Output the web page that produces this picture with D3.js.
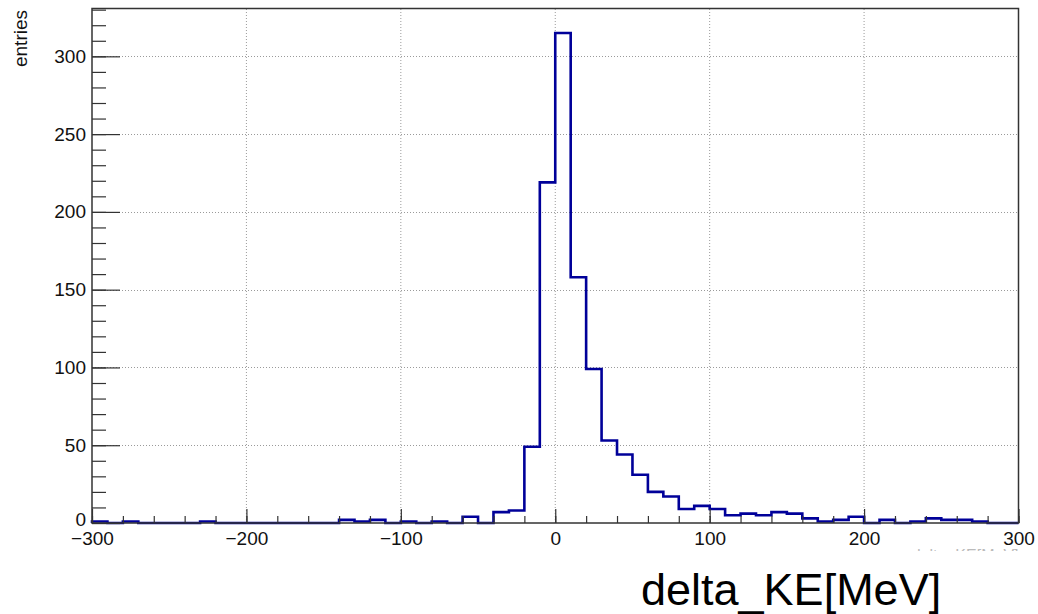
<!DOCTYPE html>
<html>
<head>
<meta charset="utf-8">
<script src="https://cdn.jsdelivr.net/npm/d3@7"></script>
<style>
  html, body { margin: 0; padding: 0; background: #fff; }
  svg { display: block; }
</style>
</head>
<body>
<svg id="chart" width="1038" height="614"></svg>
<script>
// ---- data ----
const binLow = [
  -300,-290,-280,-270,-260,-250,-240,-230,-220,-210,
  -200,-190,-180,-170,-160,-150,-140,-130,-120,-110,
  -100,-90,-80,-70,-60,-50,-40,-30,-20,-10,
  0,10,20,30,40,50,60,70,80,90,
  100,110,120,130,140,150,160,170,180,190,
  200,210,220,230,240,250,260,270,280,290
];
const binWidth = 10;
const entries = [
  1,0,1,0,0,0,0,1,0,0,
  0,0,0,0,0,0,2,1,2,0,
  1,0,1,0,4,0,7,8,49,219,
  315,158,99,53,44,31,20,17,9,11,
  9,5,6,5,7,6,3,1,2,4,
  0,2,0,1,3,2,2,1,0,0
];
const xTicks = [-300,-200,-100,0,100,200,300];
const xTickLabels = ["\u2212300","\u2212200","\u2212100","0","100","200","300"];
const yTicks = [0,50,100,150,200,250,300];
const yTickLabels = ["0","50","100","150","200","250","300"];
const xDomain = [-300, 300];
const yDomain = [0, 330.75];
const yTitle = "entries";
const xAxisTitle = "delta_KE[MeV]";
const bigLabel = "delta_KE[MeV]";

// ---- layout ----
const L = 92, R = 1018.5, T = 8.5, B = 523;
const svg = d3.select("#chart");
const x = d3.scaleLinear().domain(xDomain).range([L, R]);
const y = d3.scaleLinear().domain(yDomain).range([B, T]);
const font = "'Liberation Sans', Arial, Helvetica, sans-serif";

// grid
const grid = svg.append("g");
grid.selectAll("line.gx").data(xTicks.slice(1, -1)).join("line")
  .attr("x1", d => x(d)).attr("x2", d => x(d))
  .attr("y1", B).attr("y2", T)
  .attr("stroke", "#9a9a9a").attr("stroke-width", 1)
  .attr("stroke-dasharray", "1,2");
grid.selectAll("line.gy").data(yTicks.slice(1)).join("line")
  .attr("x1", L).attr("x2", R)
  .attr("y1", d => Math.round(y(d)) + 0.5).attr("y2", d => Math.round(y(d)) + 0.5)
  .attr("stroke", "#9a9a9a").attr("stroke-width", 1)
  .attr("stroke-dasharray", "1,2");

// histogram outline
const pts = [[x(binLow[0]), y(0)]];
binLow.forEach((lo, i) => {
  pts.push([x(lo), y(entries[i])]);
  pts.push([x(lo + binWidth), y(entries[i])]);
});
pts.push([x(binLow[binLow.length - 1] + binWidth), y(0)]);
svg.append("path")
  .attr("d", d3.line()(pts))
  .attr("fill", "none")
  .attr("stroke", "#000099")
  .attr("stroke-width", 2.6)
  .attr("stroke-linejoin", "miter");

// frame
svg.append("rect")
  .attr("x", L).attr("y", T).attr("width", R - L).attr("height", B - T)
  .attr("fill", "none").attr("stroke", "#333").attr("stroke-width", 1.5);

// y axis (ticks inward)
const yMinor = d3.range(0, 331, 10);
const gyMinor = svg.append("g").attr("transform", `translate(${L},0)`)
  .call(d3.axisLeft(y).tickValues(yMinor).tickSize(-14).tickFormat(""));
gyMinor.select(".domain").remove();
gyMinor.selectAll("line").attr("stroke", "#333").attr("stroke-width", 1.2);

const gy = svg.append("g").attr("transform", `translate(${L},0)`)
  .call(d3.axisLeft(y).tickValues(yTicks).tickSize(-28).tickPadding(6)
    .tickFormat((d, i) => yTickLabels[i]));
gy.select(".domain").remove();
gy.selectAll("line").attr("stroke", "#333").attr("stroke-width", 1.2);
gy.selectAll("text").attr("font-family", font).attr("font-size", 19).attr("fill", "#111");
gy.selectAll("text").filter(d => d === 0).attr("dy", "0.12em");

// x axis (ticks inward)
const xMinor = d3.range(-300, 301, 20);
const gxMinor = svg.append("g").attr("transform", `translate(0,${B})`)
  .call(d3.axisBottom(x).tickValues(xMinor).tickSize(-7).tickFormat(""));
gxMinor.select(".domain").remove();
gxMinor.selectAll("line").attr("stroke", "#333").attr("stroke-width", 1.2);

const gx = svg.append("g").attr("transform", `translate(0,${B})`)
  .call(d3.axisBottom(x).tickValues(xTicks).tickSize(-14).tickPadding(9)
    .tickFormat((d, i) => xTickLabels[i]));
gx.select(".domain").remove();
gx.selectAll("line").attr("stroke", "#333").attr("stroke-width", 1.2);
gx.selectAll("text").attr("font-family", font).attr("font-size", 19).attr("fill", "#111");

// y title
svg.append("text")
  .attr("transform", `translate(27,10) rotate(-90)`)
  .attr("text-anchor", "end")
  .attr("font-family", font).attr("font-size", 19).attr("fill", "#111")
  .text(yTitle);

// faint, mostly covered ROOT axis title
svg.append("clipPath").attr("id", "cut")
  .append("rect").attr("x", 0).attr("y", 0).attr("width", 1038).attr("height", 551);
svg.append("text")
  .attr("clip-path", "url(#cut)")
  .attr("x", R).attr("y", 561)
  .attr("text-anchor", "end")
  .attr("font-family", font).attr("font-size", 16).attr("fill", "#bbb")
  .text(xAxisTitle);

// big label
svg.append("text")
  .attr("x", 641).attr("y", 605)
  .attr("font-family", font).attr("font-size", 45).attr("fill", "#000")
  .text(bigLabel);
</script>
</body>
</html>
